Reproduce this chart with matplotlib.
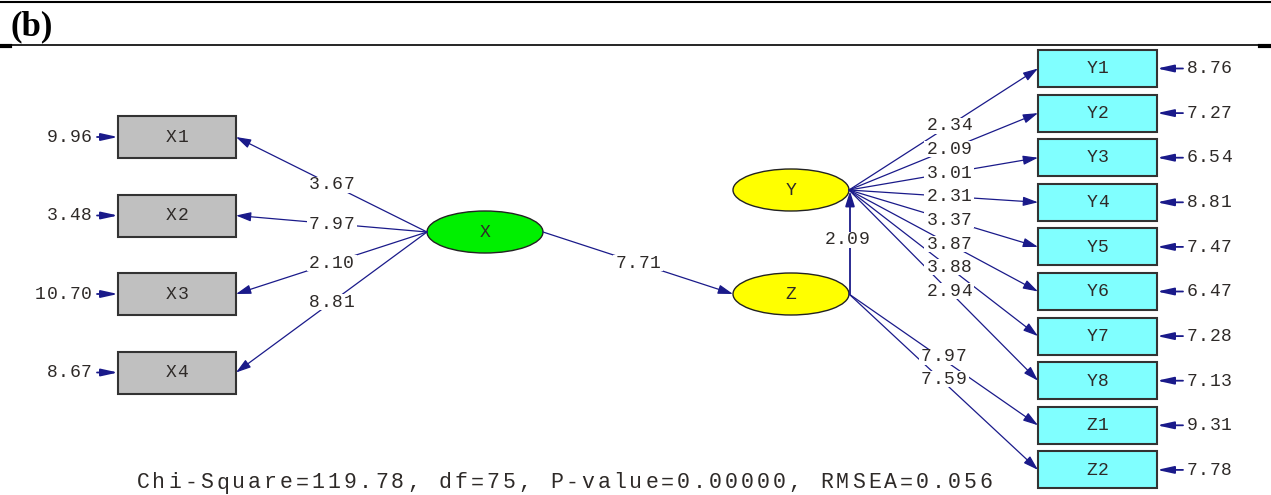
import matplotlib
matplotlib.use('Agg')
import matplotlib.pyplot as plt
from matplotlib.patches import Rectangle, Ellipse, FancyArrowPatch

# Exogenous indicators of X
x_names = ['X1', 'X2', 'X3', 'X4']
x_loadings = [3.67, 7.97, 2.10, 8.81]
x_errors = [9.96, 3.48, 10.70, 8.67]

# Indicators of Y
y_names = ['Y1', 'Y2', 'Y3', 'Y4', 'Y5', 'Y6', 'Y7', 'Y8']
y_loadings = [2.34, 2.09, 3.01, 2.31, 3.37, 3.87, 3.88, 2.94]
y_errors = [8.76, 7.27, 6.54, 8.81, 7.47, 6.47, 7.28, 7.13]

# Indicators of Z
z_names = ['Z1', 'Z2']
z_loadings = [7.97, 7.59]
z_errors = [9.31, 7.78]

# Structural paths
path_x_to_z = 7.71
path_z_to_y = 2.09

# Fit statistics
chi_square = 119.78
dof = 75
p_value = 0.00000
rmsea = 0.056

LINE = '#1a1a8a'
HEAD = '#0a0a80'
TEXT = '#2e2a28'
MONO = 'Liberation Mono'

fig = plt.figure(figsize=(12.71, 4.95), dpi=100)
ax = fig.add_axes([0, 0, 1, 1])
ax.set_xlim(0, 1271)
ax.set_ylim(495, 0)
ax.axis('off')


def spaced_text(x, y, s, adv=11.5, size=13, anchor='center', bg=False,
                cap=9.6):
    """Monospace text with explicit per-character advance (px)."""
    width = len(s) * adv
    if anchor == 'center':
        x0 = x - width / 2
    elif anchor == 'left':
        x0 = x
    else:
        x0 = x - width
    if bg:
        ax.add_patch(Rectangle((x0 - 2, y - 8), width + 4, 16, fc='white',
                               ec='none', zorder=3))
    for i, ch in enumerate(s):
        ax.text(x0 + (i + 0.5) * adv, y + cap / 2, ch, ha='center',
                va='baseline', fontsize=size, family=MONO, color=TEXT,
                fontweight='medium', zorder=4)


def arrow(p0, p1, hl=0.9, hw=0.28, lw=0.9):
    ax.add_patch(FancyArrowPatch(
        p0, p1, arrowstyle=f'-|>,head_length={hl},head_width={hw}',
        mutation_scale=10, color=LINE, lw=lw, shrinkA=0, shrinkB=0,
        zorder=2))


def path_label(p0, p1, value, t=0.5, dx=0.0, dy=0.0):
    x = p0[0] + (p1[0] - p0[0]) * t + dx
    y = p0[1] + (p1[1] - p0[1]) * t + dy
    spaced_text(x, y, f'{value:.2f}', bg=True)


# Header rules and panel tag
ax.plot([0, 1271], [2, 2], color='black', lw=1.5)
ax.plot([0, 1271], [44.5, 44.5], color='black', lw=1.2)
ax.plot([0, 10], [45.5, 45.5], color='black', lw=3)
ax.plot([1260, 1271], [45.5, 45.5], color='black', lw=3)
ax.text(10, 27, '(b)', fontsize=25, fontweight='bold',
        family='Liberation Serif', ha='left', va='center', color='black')

# Latent variables
ell_w, ell_h = 116, 42
lat = {'X': (485, 232), 'Y': (791, 190), 'Z': (791, 294)}
lat_color = {'X': '#00F000', 'Y': '#FFFF00', 'Z': '#FFFF00'}
for name, (cx, cy) in lat.items():
    ax.add_patch(Ellipse((cx, cy), ell_w, ell_h, fc=lat_color[name],
                         ec='#222222', lw=1.0, zorder=1))
    spaced_text(cx, cy, name)

# Left-hand indicator boxes
xb_left, xb_w, xb_h = 118, 118, 42
x_cy = [137 + 78.5 * i for i in range(len(x_names))]
x_src = (lat['X'][0] - ell_w / 2, lat['X'][1])
for name, lam, err, cy in zip(x_names, x_loadings, x_errors, x_cy):
    ax.add_patch(Rectangle((xb_left, cy - xb_h / 2), xb_w, xb_h,
                           fc='#C0C0C0', ec='#333333', lw=1.5, zorder=1))
    spaced_text(xb_left + xb_w / 2, cy, name)
    end = (xb_left + xb_w, cy)
    arrow(x_src, end)
    path_label(x_src, end, lam, t=0.5)
    arrow((97, cy), (xb_left, cy), hl=1.0, hw=0.22, lw=1.3)
    spaced_text(92, cy, f'{err:.2f}', anchor='right')

# Right-hand indicator boxes
rb_left, rb_w, rb_h = 1038, 119, 37
right_names = y_names + z_names
right_errors = y_errors + z_errors
r_cy = [68.5 + 44.6 * i for i in range(len(right_names))]
for name, err, cy in zip(right_names, right_errors, r_cy):
    ax.add_patch(Rectangle((rb_left, cy - rb_h / 2), rb_w, rb_h,
                           fc='#80FFFF', ec='#333333', lw=1.5, zorder=1))
    spaced_text(rb_left + rb_w / 2, cy, name)
    arrow((1183, cy), (rb_left + rb_w, cy), hl=1.0, hw=0.22, lw=1.3)
    spaced_text(1186, cy, f'{err:.2f}', anchor='left')

y_src = (lat['Y'][0] + ell_w / 2, lat['Y'][1])
for lam, cy in zip(y_loadings, r_cy[:len(y_names)]):
    end = (rb_left, cy)
    arrow(y_src, end)
    path_label(y_src, end, lam, t=0.53)

z_src = (lat['Z'][0] + ell_w / 2, lat['Z'][1])
for lam, cy in zip(z_loadings, r_cy[len(y_names):]):
    end = (rb_left, cy)
    arrow(z_src, end)
    path_label(z_src, end, lam, t=0.5, dy=-3)

# Structural paths
xz_start = (lat['X'][0] + ell_w / 2, lat['X'][1])
xz_end = (lat['Z'][0] - ell_w / 2, lat['Z'][1])
arrow(xz_start, xz_end)
path_label(xz_start, xz_end, path_x_to_z)

zy_start = (z_src[0] + 1, z_src[1])
zy_end = (y_src[0] + 1, y_src[1] + 1)
arrow(zy_start, zy_end, lw=1.3)
path_label(zy_start, zy_end, path_z_to_y, dx=-3, dy=-3)

# Fit summary
fit = (f'Chi-Square={chi_square:.2f}, df={dof}, '
       f'P-value={p_value:.5f}, RMSEA={rmsea:.3f}')
spaced_text(135, 483, fit, adv=15.9, size=15.5, anchor='left', cap=11)

fig.savefig('out.png', dpi=100)
